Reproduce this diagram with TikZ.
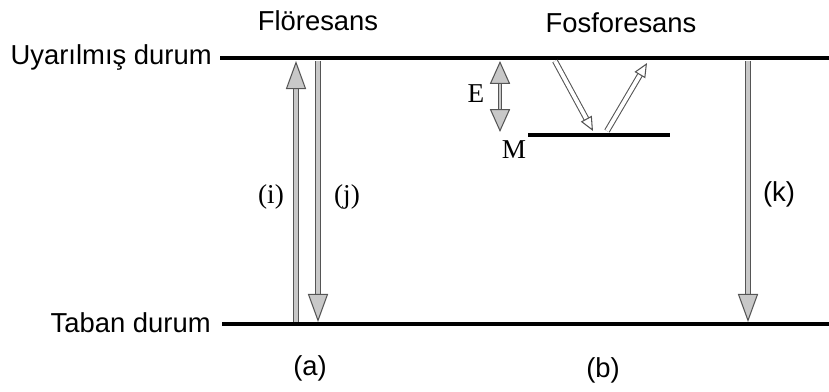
\documentclass[tikz,border=0pt]{standalone}
\usepackage{fontspec}
\setmainfont{Liberation Sans}
\newfontfamily\serifnum{Liberation Serif}
\usepackage{tikz}
\usetikzlibrary{positioning,arrows.meta}
\definecolor{shaft}{HTML}{C8C8C8}
\definecolor{edge}{HTML}{555555}

\begin{document}
\begin{tikzpicture}[x=0.02cm, y=-0.02cm,
  level/.style={line width=2.8pt, black},
  lbl/.style={font=\fontsize{15.6}{18}\selectfont, inner sep=0pt},
  slbl/.style={font=\serifnum\fontsize{15.5}{18}\selectfont, inner sep=0pt},
  trans/.style={draw=edge, line width=0.6pt, double=shaft, double distance=2.6pt,
                -{Triangle[length=16pt, width=11.5pt, fill=shaft, line width=0.6pt]}},
  hollow/.style={draw=edge, line width=0.6pt, double=white, double distance=2.2pt,
                -{Triangle[length=8pt, width=7pt, fill=white, line width=0.6pt]}},
  gap/.style={draw=edge, line width=0.6pt, double=shaft, double distance=1.6pt,
              {Triangle[length=13pt, width=11.5pt, fill=shaft, line width=0.6pt]}-{Triangle[length=13pt, width=11.5pt, fill=shaft, line width=0.6pt]}}
]
  \useasboundingbox (0,0) rectangle (829,392);

  % energy levels
  \coordinate (upL) at (220,58);
  \coordinate (upR) at (829,58);
  \coordinate (dnL) at (222,324);
  \coordinate (dnR) at (829,324);
  \coordinate (mL) at (528,135);
  \coordinate (mR) at (670,135);
  \draw[level] (upL) -- (upR);
  \draw[level] (dnL) -- (dnR);
  \draw[level] (mL) -- (mR);

  \node[lbl, anchor=east] (uyar) at (212,57) {Uyarılmış durum};
  \node[lbl, anchor=east] (taban) at (211,323) {Taban durum};
  \node[lbl] (flor) at (318,21) {Flöresans};
  \node[lbl] (fosf) at (621,23) {Fosforesans};
  \node[lbl] (a) at (310,368) {(a)};
  \node[lbl] (b) at (603,370) {(b)};

  % fluorescence
  \coordinate (i0) at (296,322);
  \coordinate (i1) at (296,61);
  \coordinate (j0) at (318,61);
  \coordinate (j1) at (318,322);
  \draw[trans] (i0) -- (i1);
  \draw[trans] (j0) -- (j1);
  \node[slbl] (il) at (271,197) {(i)};
  \node[slbl] (jl) at (347,197) {(j)};

  % phosphorescence
  \coordinate (e0) at (500,61);
  \coordinate (e1) at (500,132);
  \draw[gap] (e0) -- (e1);
  \node[slbl] (El) at (476,94) {E};
  \node[slbl] (Ml) at (514,150) {M};

  \coordinate (p0) at (555,61);
  \coordinate (p1) at (593,131);
  \coordinate (q0) at (607,131);
  \coordinate (q1) at (647,63);
  \draw[hollow] (p0) -- (p1);
  \draw[hollow] (q0) -- (q1);

  \coordinate (k0) at (748,61);
  \coordinate (k1) at (748,322);
  \draw[trans] (k0) -- (k1);
  \node[lbl] (kl) at (779,194) {(k)};
\end{tikzpicture}
\end{document}
